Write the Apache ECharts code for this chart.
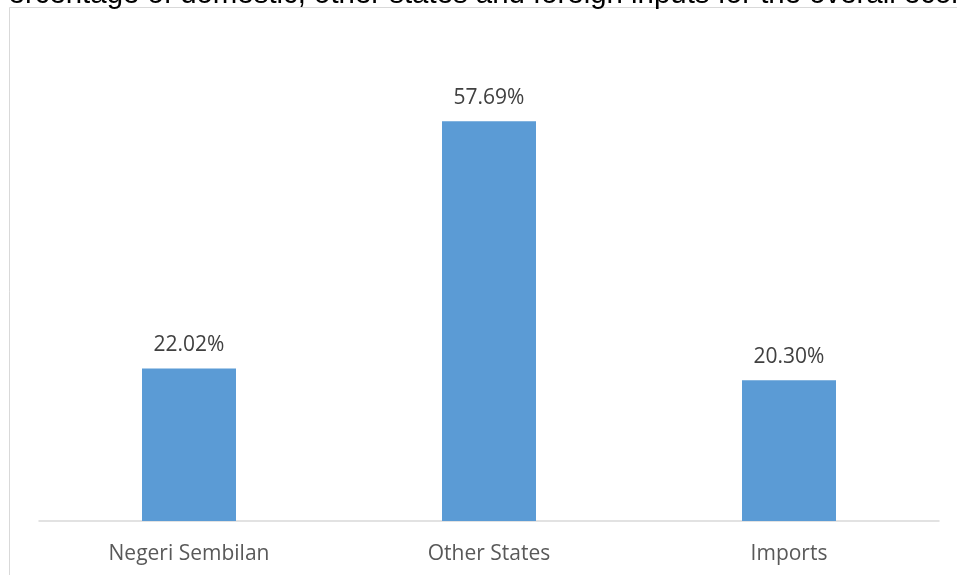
<!DOCTYPE html>
<html><head><meta charset="utf-8">
<script src="https://cdn.jsdelivr.net/npm/echarts@6/dist/echarts.min.js"></script>
<style>html,body{margin:0;padding:0;background:#fff;}#c{width:957px;height:575px;}</style>
</head><body><div id="c"></div>
<script>
var titleText = 'Percentage of domestic, other states and foreign inputs for the overall economy';
var categories = ['Negeri Sembilan', 'Other States', 'Imports'];
var values = [22.02, 57.69, 20.30];

var chart = echarts.init(document.getElementById('c'));
chart.setOption({
  animation: false,
  backgroundColor: '#fff',
  graphic: [
    {type: 'rect', shape: {x: 9.5, y: 7.5, width: 1200, height: 1200}, style: {fill: 'none', stroke: '#d9d9d9', lineWidth: 1}, z: 0},
    {type: 'text', left: -11, top: -20, style: {text: titleText, font: '29.4px "Liberation Sans", Arial, sans-serif', fill: '#000'}, z: 10}
  ],
  grid: {left: 39, right: 18, top: 36, bottom: 54},
  xAxis: {
    type: 'category', data: categories,
    axisLine: {lineStyle: {color: '#d9d9d9', width: 1.5}},
    axisTick: {show: false},
    axisLabel: {color: '#595959', fontSize: 21, fontFamily: 'Open Sans', margin: 23}
  },
  yAxis: {type: 'value', min: 0, max: 70, show: false, splitLine: {show: false}},
  series: [{
    type: 'bar', data: values, barWidth: 94,
    itemStyle: {color: '#5b9bd5'},
    label: {show: true, position: 'top', distance: 13, color: '#404040', fontSize: 21, fontFamily: 'Open Sans',
      formatter: function(p){ return p.value.toFixed(2) + '%'; }}
  }]
});
</script></body></html>
